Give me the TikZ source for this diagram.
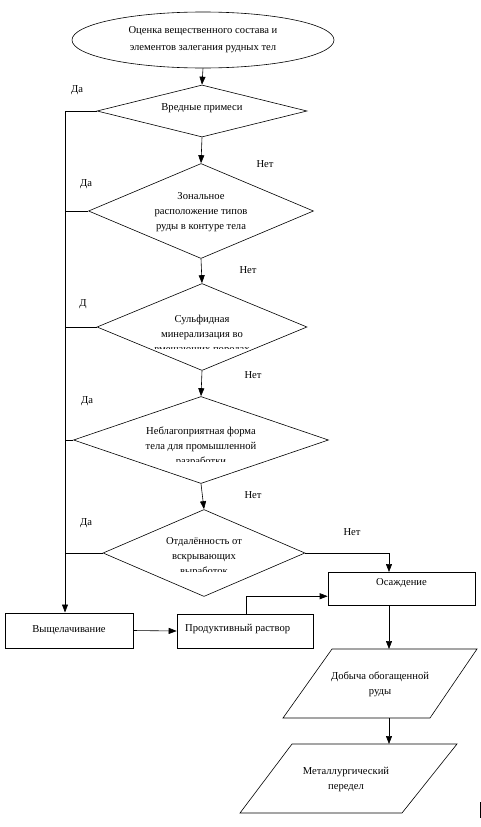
\documentclass[tikz,border=0pt]{standalone}
\usepackage{fontspec}
\setmainfont{Liberation Serif}
\usetikzlibrary{shapes.geometric,arrows.meta,calc}
\tikzset{
  every node/.style={font=\fontsize{10.6}{15}\selectfont},
  ln/.style={draw=black,line width=0.6pt},
  arr/.style={ln,-{Triangle[length=8pt,width=6pt]}},
  dia/.style={ln,diamond,inner sep=0pt},
  txt/.style={align=center,inner sep=0pt},
  box/.style={ln,rectangle,inner sep=0pt},
  lbl/.style={inner sep=0pt}
}
\begin{document}
\begin{tikzpicture}[x=1pt,y=-1pt]
\useasboundingbox (0,0) rectangle (481,827);
% start ellipse
\node[ln,ellipse,minimum width=262pt,minimum height=56pt,inner sep=0pt,align=center,font=\fontsize{10.6}{17}\selectfont] (e) at (203,40) {Оценка вещественного состава и\\элементов залегания рудных тел};
% diamonds
\node[dia,minimum width=210pt,minimum height=52pt] (d1) at (202,111) {};
\node[txt] (t1) at (202,108) {Вредные примеси};
\node[dia,minimum width=225pt,minimum height=95pt] (d2) at (201,211) {};
\node[txt] (t2) at (201,212) {Зональное\\расположение типов\\руды в контуре тела};
\node[dia,minimum width=210pt,minimum height=87pt] (d3) at (202,327) {};
\begin{scope}
\clip (100,300) rectangle (300,348);
\node[txt] (t3) at (202,335) {Сульфидная\\минерализация во\\вмещающих породах};
\end{scope}
\node[dia,minimum width=255pt,minimum height=87pt] (d4) at (201,440) {};
\begin{scope}
\clip (80,410) rectangle (320,461);
\node[txt] (t4) at (201,447) {Неблагоприятная форма\\тела для промышленной\\разработки};
\end{scope}
\node[dia,minimum width=202pt,minimum height=87pt] (d5) at (204,553) {};
\begin{scope}
\clip (110,520) rectangle (300,571);
\node[txt] (t5) at (204,557) {Отдалённость от\\вскрывающих\\выработок};
\end{scope}
% boxes
\node[box,minimum width=128pt,minimum height=35pt] (b1) at (69,630.5) {Выщелачивание};
\node[box,minimum width=136pt,minimum height=34pt] (b2) at (245,631) {};
\node[lbl,anchor=west] (t7) at (185,629) {Продуктивный раствор};
\node[box,minimum width=147pt,minimum height=33pt] (b3) at (401.5,588.5) {};
\node[lbl] (t6) at (401.5,583) {Осаждение};
% parallelograms
\coordinate (p1a) at (332,649); \coordinate (p1b) at (477,649);
\coordinate (p1c) at (430,718); \coordinate (p1d) at (283,718);
\draw[ln] (p1a) -- (p1b) -- (p1c) -- (p1d) -- cycle;
\node[txt] (p1) at (380,684.5) {Добыча обогащенной\\руды};
\coordinate (p2a) at (292,744); \coordinate (p2b) at (457,744);
\coordinate (p2c) at (402,813); \coordinate (p2d) at (240,813);
\draw[ln] (p2a) -- (p2b) -- (p2c) -- (p2d) -- cycle;
\node[txt] (p2) at (346,779.5) {Металлургический\\передел};
% helper coordinates
\coordinate (lb) at (65,612.5);
\coordinate (rb) at (389,572);
% vertical flow
\draw[arr] (e.south) -- (d1.north);
\draw[arr] (d1.south) -- (d2.north);
\draw[arr] (d2.south) -- (d3.north);
\draw[arr] (d3.south) -- (d4.north);
\draw[arr] (d4.south) -- (d5.north);
% left "yes" line
\draw[arr] (d1.west) -| (lb);
\draw[ln] (d2.west) -- (d2.west -| lb);
\draw[ln] (d3.west) -- (d3.west -| lb);
\draw[ln] (d4.west) -- (d4.west -| lb);
\draw[ln] (d5.west) -- (d5.west -| lb);
% right
\draw[arr] (d5.east) -| (rb);
\draw[arr] (b1.east) -- (b2.west);
\draw[arr] ($(b2.north)+(1,0)$) |- ($(b3.south west)!0.27!(b3.north west)$);
\draw[arr] (b3.south -| rb) -- (p1a -| rb);
\draw[arr] (p1c -| rb) -- (p2a -| rb);
% stray mark
\coordinate (m1) at (480,802); \coordinate (m2) at (480,818);
\draw[ln] (m1) -- (m2);
% labels
\node[lbl] (l1) at (77,90) {Да};
\node[lbl] (l2) at (265,164) {Нет};
\node[lbl] (l3) at (86,184) {Да};
\node[lbl] (l4) at (248,270) {Нет};
\node[lbl] (l5) at (83,304) {Д};
\node[lbl] (l6) at (253,375) {Нет};
\node[lbl] (l7) at (87,401) {Да};
\node[lbl] (l8) at (253,495) {Нет};
\node[lbl] (l9) at (86,523) {Да};
\node[lbl] (l10) at (352,532) {Нет};
\end{tikzpicture}
\end{document}
